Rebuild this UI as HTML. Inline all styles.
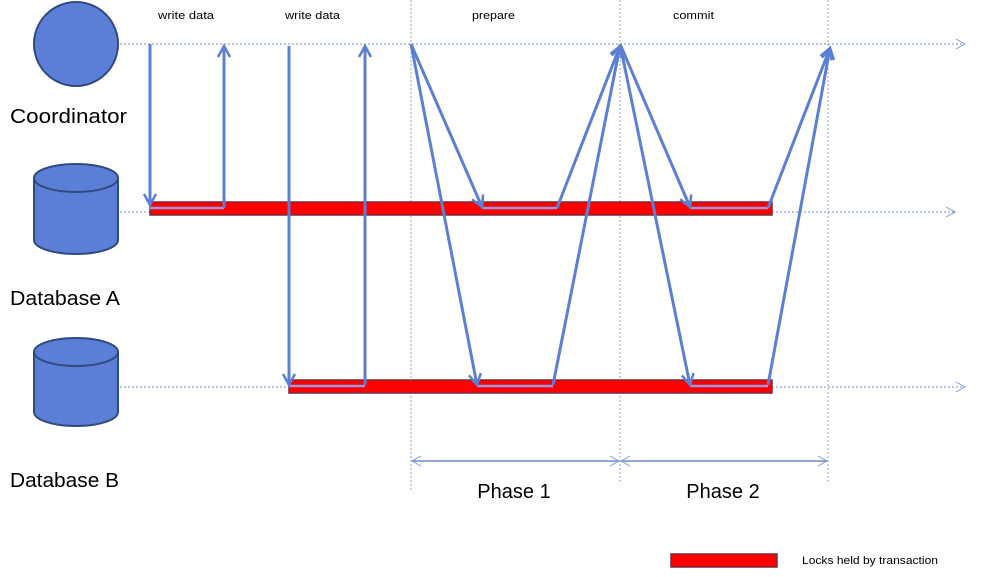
<!DOCTYPE html>
<html><head><meta charset="utf-8"><style>
html,body{margin:0;padding:0;background:#fff;}
svg{display:block;font-family:"Liberation Sans",sans-serif;}
</style></head><body>
<svg width="993" height="577" viewBox="0 0 993 577">
<defs>
<marker id="ah" markerWidth="16" markerHeight="16" refX="12" refY="7" orient="auto" markerUnits="userSpaceOnUse">
<path d="M1,1 L12,7 L1,13" fill="none" stroke="#5B7FD4" stroke-width="2.5"/></marker>
<marker id="ahs" markerWidth="12" markerHeight="12" refX="10" refY="6" orient="auto" markerUnits="userSpaceOnUse">
<path d="M1,1 L10,6 L1,11" fill="none" stroke="#7B97D8" stroke-width="1"/></marker>
<marker id="ahs2" markerWidth="12" markerHeight="12" refX="2" refY="6" orient="auto" markerUnits="userSpaceOnUse">
<path d="M11,1 L2,6 L11,11" fill="none" stroke="#7B97D8" stroke-width="1"/></marker>
</defs>

<g stroke="#8EA6D8" stroke-width="1" stroke-dasharray="2,2">
<line x1="411" y1="0" x2="411" y2="492"/>
<line x1="620" y1="0" x2="620" y2="482"/>
<line x1="828" y1="0" x2="828" y2="482"/>
</g>

<g stroke="#6F8CCB" stroke-width="1" stroke-dasharray="2,2" fill="none">
<line x1="120" y1="44" x2="965" y2="44" marker-end="url(#ahs)"/>
<line x1="120" y1="212" x2="955" y2="212" marker-end="url(#ahs)"/>
<line x1="120" y1="387" x2="965" y2="387" marker-end="url(#ahs)"/>
</g>

<circle cx="76" cy="44" r="42" fill="#5B7FD7" stroke="#2F4A80" stroke-width="2"/>
<text x="10" y="123" font-size="20" fill="#000" textLength="117" lengthAdjust="spacingAndGlyphs">Coordinator</text>
<g fill="#5B7FD7" stroke="#2F4A80" stroke-width="2">
<path d="M34,178 L34,240 A42,14 0 0 0 118,240 L118,178"/>
<ellipse cx="76" cy="178" rx="42" ry="14"/>
</g>
<text x="10" y="305" font-size="20" fill="#000" textLength="110" lengthAdjust="spacingAndGlyphs">Database A</text>
<g fill="#5B7FD7" stroke="#2F4A80" stroke-width="2">
<path d="M34,352 L34,412 A42,14 0 0 0 118,412 L118,352"/>
<ellipse cx="76" cy="352" rx="42" ry="14"/>
</g>
<text x="10" y="487" font-size="20" fill="#000" textLength="109" lengthAdjust="spacingAndGlyphs">Database B</text>

<rect x="150" y="202" width="622" height="13" fill="#FF0000" stroke="#7A2A3A" stroke-width="1.5"/>
<rect x="289" y="380" width="483" height="13" fill="#FF0000" stroke="#7A2A3A" stroke-width="1.5"/>

<g font-size="11" fill="#000">
<text x="158" y="19" textLength="56" lengthAdjust="spacingAndGlyphs">write data</text>
<text x="285" y="19" textLength="55" lengthAdjust="spacingAndGlyphs">write data</text>
<text x="472" y="19" textLength="43" lengthAdjust="spacingAndGlyphs">prepare</text>
<text x="673" y="19" textLength="41" lengthAdjust="spacingAndGlyphs">commit</text>
</g>

<g stroke="#9A9AE0" stroke-width="2.5">
<line x1="150" y1="208" x2="224" y2="208"/>
<line x1="289" y1="386" x2="365" y2="386"/>
<line x1="482" y1="208" x2="557" y2="208"/>
<line x1="477" y1="386" x2="553" y2="386"/>
<line x1="690" y1="208" x2="768" y2="208"/>
<line x1="690" y1="386" x2="768" y2="386"/>
</g>

<g stroke="#5B7FD4" stroke-width="3" fill="none">
<line x1="150" y1="44" x2="150" y2="205" marker-end="url(#ah)"/>
<line x1="224" y1="208" x2="224" y2="46" marker-end="url(#ah)"/>
<line x1="289" y1="46" x2="289" y2="385" marker-end="url(#ah)"/>
<line x1="365" y1="385" x2="365" y2="46" marker-end="url(#ah)"/>
<line x1="411" y1="44" x2="482" y2="207" marker-end="url(#ah)"/>
<line x1="411" y1="44" x2="477" y2="385" marker-end="url(#ah)"/>
<line x1="557" y1="208" x2="620" y2="46" marker-end="url(#ah)"/>
<line x1="553" y1="385" x2="620" y2="46" marker-end="url(#ah)"/>
<line x1="620" y1="44" x2="690" y2="207" marker-end="url(#ah)"/>
<line x1="620" y1="44" x2="690" y2="385" marker-end="url(#ah)"/>
<line x1="768" y1="208" x2="830" y2="48" marker-end="url(#ah)"/>
<line x1="768" y1="385" x2="830" y2="48" marker-end="url(#ah)"/>
</g>

<g stroke="#6F8CCB" stroke-width="1.5" fill="none">
<line x1="412" y1="461" x2="619" y2="461" marker-start="url(#ahs2)" marker-end="url(#ahs)"/>
<line x1="621" y1="461" x2="827" y2="461" marker-start="url(#ahs2)" marker-end="url(#ahs)"/>
</g>
<text x="514" y="498" font-size="20" text-anchor="middle">Phase 1</text>
<text x="723" y="498" font-size="20" text-anchor="middle">Phase 2</text>

<rect x="671" y="554" width="106" height="13" fill="#FF0000" stroke="#7A2A3A" stroke-width="1.5"/>
<text x="802" y="564" font-size="11" textLength="136" lengthAdjust="spacingAndGlyphs">Locks held by transaction</text>
</svg>
</body></html>
